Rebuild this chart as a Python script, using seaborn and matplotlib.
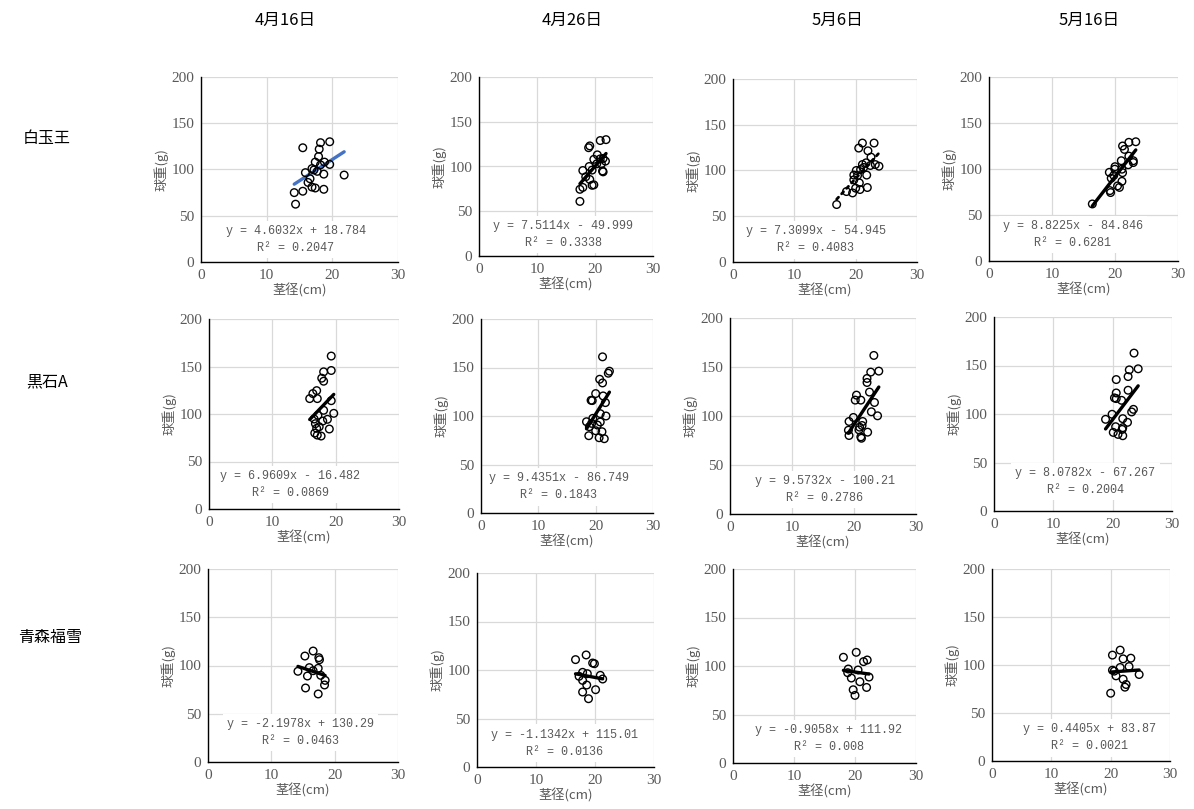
import matplotlib
matplotlib.use("Agg")
import matplotlib.pyplot as plt
import seaborn as sns
import numpy as np
import pandas as pd

# ---------------- data ----------------
dates = ["4月16日", "4月26日", "5月6日", "5月16日"]
varieties = ["白玉王", "黒石A", "青森福雪"]

# 白玉王
x_hak_0416 = [15.5, 18.2, 19.6, 18.0, 17.9, 17.4, 18.8, 19.6, 18.2, 16.9, 17.7, 15.9, 18.7, 16.6, 16.3, 21.8, 16.9, 17.4, 18.7, 14.2, 15.5, 14.4, 17.2]
y_hak_0416 = [123.5, 129, 130, 122, 114, 108, 108, 105.5, 105, 101, 98, 96.6, 95, 90, 86, 94, 81, 80, 78.6, 75, 76.5, 62.5, 99.5]
x_hak_0426 = [21.9, 20.9, 19.1, 18.9, 20.4, 19.8, 20.9, 21.4, 21.8, 21.1, 20.3, 19.0, 19.5, 17.9, 21.3, 21.4, 18.4, 19.1, 19.5, 19.8, 17.9, 17.4, 17.4]
y_hak_0426 = [130, 129, 123, 121, 113, 108, 108.5, 109, 106, 103, 103, 100, 96, 95.5, 95, 94, 88.5, 85.5, 79, 79.5, 76.6, 74.5, 61]
x_hak_0506 = [21.1, 23.0, 20.5, 22.0, 22.5, 21.7, 21.1, 23.2, 23.8, 22.4, 21.3, 20.1, 20.8, 19.7, 21.8, 20.3, 19.7, 20.6, 20.0, 21.9, 20.7, 18.5, 19.5, 16.9]
y_hak_0506 = [130, 130, 124.5, 121.5, 114.6, 108.4, 106.5, 106.5, 104.7, 105.5, 103.3, 100, 101, 95, 95, 94.5, 89.8, 86.5, 80.7, 81.4, 79.2, 77, 75.5, 62.8]
x_hak_0516 = [22.2, 23.3, 21.2, 21.5, 22.2, 21.0, 22.9, 22.9, 22.1, 20.0, 19.97, 21.1, 19.1, 21.2, 19.8, 19.4, 21.1, 20.4, 20.7, 19.2, 19.3, 16.4]
y_hak_0516 = [129, 129.6, 125, 121.3, 114, 109, 109, 107, 104.6, 102.5, 99.8, 99.8, 96.4, 96, 93, 90, 86.6, 81.6, 80, 76.5, 74.4, 62]

# 黒石A
x_kur_0416 = [19.3, 19.3, 18.1, 17.8, 18.1, 17.0, 16.4, 15.9, 17.1, 19.3, 18.1, 19.7, 17.2, 16.6, 18.7, 17.96, 16.8, 17.4, 17.0, 19.0, 16.7, 17.1, 17.7]
y_kur_0416 = [161, 145.8, 144.4, 137.7, 134.5, 124.6, 121.5, 116.2, 116.2, 114, 103.9, 100.7, 98.6, 94.7, 94.4, 92.6, 89.8, 86.6, 84.9, 84.2, 79.9, 77.8, 76.8]
x_kur_0426 = [21.2, 22.4, 22.2, 20.7, 21.2, 20.0, 21.3, 19.2, 19.4, 21.7, 20.8, 21.8, 19.5, 18.4, 20.8, 19.3, 20.3, 18.9, 20.0, 21.1, 18.8, 20.6, 21.5]
y_kur_0426 = [161, 146.2, 144.1, 137.9, 134.1, 123.1, 120.7, 116.2, 115.9, 113.8, 102.4, 100, 97.6, 94.1, 93.8, 92.4, 90.7, 89, 84.8, 83.8, 79.7, 77.6, 76.6]
x_kur_0506 = [23.2, 24.0, 22.7, 22.1, 22.1, 22.5, 20.4, 20.2, 21.1, 23.3, 22.8, 23.8, 19.9, 19.2, 21.4, 21.3, 19.1, 20.8, 22.2, 19.2, 21.1, 21.2, 20.9]
y_kur_0506 = [161.8, 145.8, 144.8, 138.3, 134.2, 124.4, 121.3, 116.2, 116.2, 113.8, 104.3, 100.2, 98.5, 94.4, 94.4, 90.3, 85.5, 85.9, 83.5, 80.1, 78.7, 77.3, 88.6]
x_kur_0516 = [23.6, 24.3, 22.8, 22.6, 20.6, 22.6, 20.6, 20.3, 20.6, 21.5, 23.5, 23.2, 19.9, 18.8, 21.7, 22.5, 20.5, 21.7, 21.6, 20.1, 20.9, 21.7]
y_kur_0516 = [162.8, 146.6, 145.5, 138.6, 135.5, 124.5, 121.7, 116.6, 115.9, 114.1, 104.8, 102.1, 99.7, 94.5, 95.2, 91.4, 86.9, 85.9, 84.1, 81, 79, 77.6]

# 青森福雪
x_aom_0416 = [16.6, 15.3, 17.5, 17.6, 16.0, 17.4, 16.6, 14.2, 17.8, 15.7, 18.5, 18.4, 15.4, 17.4]
y_aom_0416 = [115, 109.8, 108.1, 106, 97.8, 97.1, 94.6, 94, 89.8, 89.1, 84.6, 79.8, 76.7, 70.5]
x_aom_0426 = [18.5, 16.7, 19.6, 19.9, 17.9, 18.7, 17.3, 20.9, 21.3, 17.9, 18.6, 20.1, 17.9, 18.9]
y_aom_0426 = [115.5, 110.7, 107.2, 106.5, 97.6, 96.2, 93.5, 94.5, 90.7, 89.3, 84.5, 79.7, 77.3, 70.4]
x_aom_0506 = [20.2, 18.1, 22.0, 21.4, 18.9, 20.5, 18.8, 22.3, 19.4, 20.8, 21.9, 19.7, 20.0]
y_aom_0506 = [114.1, 109, 106.2, 104.5, 96.9, 95.9, 93.1, 88.6, 87.6, 83.8, 77.9, 75.5, 69.7]
x_aom_0516 = [21.6, 20.3, 23.4, 22.1, 21.6, 23.1, 20.3, 20.6, 24.8, 20.9, 22.1, 22.6, 22.4, 20.0]
y_aom_0516 = [115.5, 110.3, 107.1, 106.4, 97.4, 98.4, 94.6, 93.6, 90.1, 88.7, 85.2, 79.7, 76.9, 70.6]

# trendline coefficients (as printed on the chart)
slopes = [4.6032, 7.5114, 7.3099, 8.8225,
          6.9609, 9.4351, 9.5732, 8.0782,
          -2.1978, -1.1342, -0.9058, 0.4405]
intercepts = [18.784, -49.999, -54.945, -84.846,
              -16.482, -86.749, -100.21, -67.267,
              130.29, 115.01, 111.92, 83.87]
eq_labels = ["y = 4.6032x + 18.784", "y = 7.5114x - 49.999", "y = 7.3099x - 54.945", "y = 8.8225x - 84.846",
             "y = 6.9609x - 16.482", "y = 9.4351x - 86.749", "y = 9.5732x - 100.21", "y = 8.0782x - 67.267",
             "y = -2.1978x + 130.29", "y = -1.1342x + 115.01", "y = -0.9058x + 111.92", "y = 0.4405x + 83.87"]
r2_labels = ["R² = 0.2047", "R² = 0.3338", "R² = 0.4083", "R² = 0.6281",
             "R² = 0.0869", "R² = 0.1843", "R² = 0.2786", "R² = 0.2004",
             "R² = 0.0463", "R² = 0.0136", "R² = 0.008", "R² = 0.0021"]

xs = [x_hak_0416, x_hak_0426, x_hak_0506, x_hak_0516,
      x_kur_0416, x_kur_0426, x_kur_0506, x_kur_0516,
      x_aom_0416, x_aom_0426, x_aom_0506, x_aom_0516]
ys = [y_hak_0416, y_hak_0426, y_hak_0506, y_hak_0516,
      y_kur_0416, y_kur_0426, y_kur_0506, y_kur_0516,
      y_aom_0416, y_aom_0426, y_aom_0506, y_aom_0516]

x_ticks = [0, 10, 20, 30]
y_ticks = [0, 50, 100, 150, 200]

# ---------------- layout ----------------
W, H = 1194, 809
# (left, right, top, bottom) pixels
boxes = [(201, 398, 77, 262), (479, 653, 77, 256), (733, 917, 79, 262), (989, 1178, 77, 261),
         (209, 399, 319, 509), (481, 653, 319, 513), (730, 916, 318, 514), (994, 1172, 317, 511),
         (208, 398, 569, 762), (477, 654, 573, 767), (733, 916, 569, 763), (992, 1170, 569, 761)]
label_pos = [(14.4, 24.4), (14.5, 24.2), (13.5, 24.1), (13.3, 28.5),
             (12.8, 26.0), (13.6, 26.9), (15.3, 25.2), (15.4, 30.7),
             (14.6, 30.7), (14.9, 24.7), (15.7, 25.2), (16.5, 24.0)]
line_colors = ["#4472C4"] + ["black"] * 11
line_styles = ["-", "-", ":", "-"] + ["-"] * 8

sns.set_style("white")
plt.rcParams['font.family'] = ['Noto Sans CJK JP', 'DejaVu Sans']

GRAY = "#595959"
SERIF = ["Liberation Serif", "DejaVu Serif"]
fig = plt.figure(figsize=(W / 100, H / 100), dpi=100)

for i, (l, r, t, b) in enumerate(boxes):
    ax = fig.add_axes([l / W, 1 - b / H, (r - l) / W, (b - t) / H])
    df = pd.DataFrame({"x": xs[i], "y": ys[i]})
    xr = np.array([min(xs[i]), max(xs[i])])
    line_df = pd.DataFrame({"x": xr, "y": slopes[i] * xr + intercepts[i]})
    sns.lineplot(data=line_df, x="x", y="y", ax=ax, color=line_colors[i],
                 lw=2.4 if line_styles[i] == "-" else 2.0, linestyle=line_styles[i],
                 dash_capstyle="round", zorder=3)
    sns.scatterplot(data=df, x="x", y="y", ax=ax, s=30, facecolor="none",
                    edgecolor="black", linewidth=1.0, zorder=4)
    ax.set_xlim(0, 30)
    ax.set_ylim(0, 200)
    ax.set_xticks(x_ticks, labels=[str(v) for v in x_ticks], fontfamily=SERIF,
                  fontsize=11, color=GRAY)
    ax.set_yticks(y_ticks, labels=[str(v) for v in y_ticks], fontfamily=SERIF,
                  fontsize=11, color=GRAY)
    ax.grid(True, color="#D9D9D9", lw=0.9)
    ax.set_axisbelow(True)
    for s in ["top", "right"]:
        ax.spines[s].set_visible(False)
    for s in ["left", "bottom"]:
        ax.spines[s].set_color("black")
        ax.spines[s].set_linewidth(1.0)
    ax.tick_params(length=0, pad=5)
    ax.set_xlabel("茎径(cm)", fontsize=9.5, color=GRAY, labelpad=1)
    ax.set_ylabel("球重(g)", fontsize=9.5, color=GRAY, labelpad=2)
    lx, ly = label_pos[i]
    ax.text(lx, ly, eq_labels[i] + "\n" + r2_labels[i], ha="center", va="center",
            multialignment="center", fontsize=8.5, color=GRAY,
            family=["Liberation Mono", "DejaVu Sans Mono"], linespacing=1.55, zorder=2,
            bbox=dict(facecolor="white", edgecolor="none", pad=3))

col_x = [285, 572, 837, 1089]
for d, cx in zip(dates, col_x):
    fig.text(cx / W, 1 - 20 / H, d, ha="center", va="center", fontsize=12, color="black")
row_pos = [(47, 139), (47, 382), (50, 637)]
for v, (rx, ry) in zip(varieties, row_pos):
    fig.text(rx / W, 1 - ry / H, v, ha="center", va="center", fontsize=11.5, color="black")

fig.savefig("out.png", dpi=100, facecolor="white")
